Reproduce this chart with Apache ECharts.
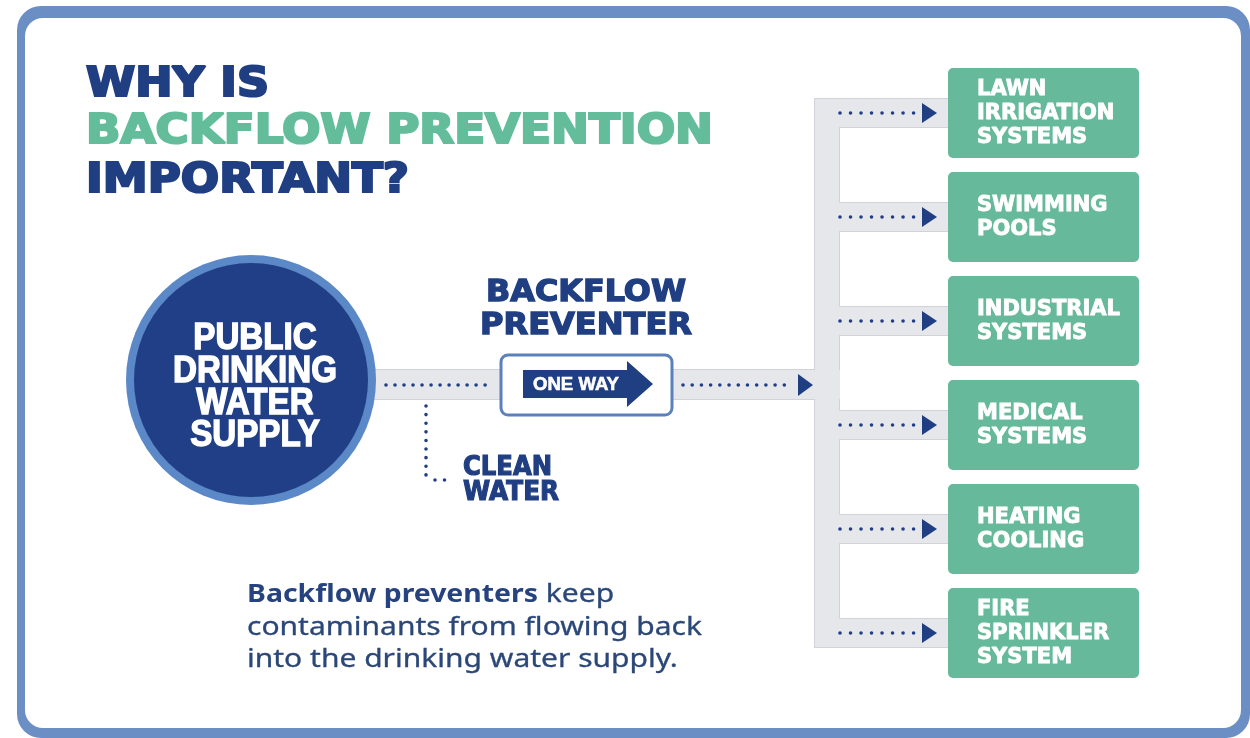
<!DOCTYPE html>
<html><head><meta charset="utf-8">
<script src="https://cdn.jsdelivr.net/npm/echarts@6/dist/echarts.min.js"></script>
<style>html,body{margin:0;padding:0;background:#fff;}#chart{width:1250px;height:738px;}</style>
</head><body><div id="chart"></div>
<script>
// ---- content ----
const titleLines = ['WHY IS', 'BACKFLOW PREVENTION', 'IMPORTANT?'];
const sourceLines = ['PUBLIC', 'DRINKING', 'WATER', 'SUPPLY'];
const preventerLines = ['BACKFLOW', 'PREVENTER'];
const arrowLabel = 'ONE WAY';
const cleanLines = ['CLEAN', 'WATER'];
const destinations = ['LAWN\nIRRIGATION\nSYSTEMS', 'SWIMMING\nPOOLS', 'INDUSTRIAL\nSYSTEMS', 'MEDICAL\nSYSTEMS', 'HEATING\nCOOLING', 'FIRE\nSPRINKLER\nSYSTEM'];
const captionBold = 'Backflow preventers';
const captionLines = [' keep', 'contaminants from flowing back', 'into the drinking water supply.'];

// ---- styles ----
const NAVY = '#203f82', GREEN = '#63bd9b', BOX = '#66b99b', FRAME = '#6b8ec4';
const PIPE = '#e6e7eb', PIPE_EDGE = '#d0d3da', RING = '#5b88c7', CIRCLE = '#213f86';
const HEAVY = '"DejaVu Sans"', ARIAL = '"Liberation Sans"', BODY = '"Noto Sans"';

const ctx = document.createElement('canvas').getContext('2d');
function measure(text, size, weight, family) {
  ctx.font = weight + ' ' + size + 'px ' + family;
  return ctx.measureText(text).width;
}
function txt(text, x, y, size, weight, family, fill, opt) {
  opt = opt || {};
  let sx = 1;
  if (opt.width) sx = opt.width / measure(text, size, weight, family);
  if (opt.scale) sx = opt.scale;
  const align = opt.align || 'left';
  const style = {
    text: text, fontSize: size, fontWeight: weight, fontFamily: family, fill: fill,
    align: align, textAlign: align, verticalAlign: 'middle', textVerticalAlign: 'middle'
  };
  if (opt.bolden) { style.stroke = fill; style.lineWidth = opt.bolden; style.lineJoin = 'round'; }
  return { type: 'text', x: x, y: y, scaleX: sx, z: opt.z || 10, style: style };
}
function dots(x1, y1, x2, y2, gap, z) {
  return {
    type: 'line', z: z || 6,
    shape: { x1: x1, y1: y1, x2: x2, y2: y2 },
    style: { stroke: NAVY, lineWidth: 3.6, lineDash: [0.01, gap], lineCap: 'round' }
  };
}

const elements = [];
// frame
elements.push({ type: 'rect', z: 0, shape: { x: 17, y: 6, width: 1233, height: 732, r: 24 }, style: { fill: FRAME } });
elements.push({ type: 'rect', z: 0, shape: { x: 25, y: 18, width: 1216, height: 710, r: 18 }, style: { fill: '#ffffff' } });

// title
const titleY = [86, 133, 182];
const titleW = [183, 627, 323];
titleLines.forEach((t, i) => {
  elements.push(txt(t, 86, titleY[i], 40, 'bold', HEAVY, i === 1 ? GREEN : NAVY, { width: titleW[i], bolden: 2.2 }));
});

// main pipe (outline + fill)
elements.push({ type: 'rect', z: 1, shape: { x: 360, y: 369, width: 480, height: 31 }, style: { fill: PIPE_EDGE } });
elements.push({ type: 'rect', z: 2, shape: { x: 360, y: 370, width: 480, height: 29 }, style: { fill: PIPE } });

// source circle
elements.push({ type: 'circle', z: 5, shape: { cx: 251, cy: 380, r: 125 }, style: { fill: RING } });
elements.push({ type: 'circle', z: 5, shape: { cx: 251, cy: 380, r: 117 }, style: { fill: CIRCLE } });
const srcScale = 164 / measure('DRINKING', 36, 'bold', ARIAL);
const srcY = [339, 372, 404, 436];
sourceLines.forEach((t, i) => {
  elements.push(txt(t, 255, srcY[i], 36, 'bold', ARIAL, '#ffffff', { scale: srcScale, align: 'center', bolden: 1.4 }));
});

// main flow dots
elements.push(dots(386, 385, 493, 385, 9));
elements.push(dots(683, 385, 793, 385, 9.2));
elements.push({ type: 'polygon', z: 6, shape: { points: [[798, 374], [813, 385], [798, 396]] }, style: { fill: NAVY } });

// preventer
elements.push({ type: 'rect', z: 6, shape: { x: 501, y: 355, width: 171, height: 60, r: 7 }, style: { fill: '#ffffff', stroke: '#5b80ba', lineWidth: 3 } });
elements.push({ type: 'polygon', z: 7, shape: { points: [[523, 370], [627, 370], [627, 361], [653, 384], [627, 407], [627, 398], [523, 398]] }, style: { fill: NAVY } });
elements.push(txt(arrowLabel, 576, 385, 18, 'bold', ARIAL, '#ffffff', { width: 86, align: 'center', z: 8, bolden: 0.6 }));
const prevY = [293, 326];
const prevW = [200, 212];
preventerLines.forEach((t, i) => {
  elements.push(txt(t, 586, prevY[i], 30, 'bold', HEAVY, NAVY, { width: prevW[i], align: 'center', bolden: 1.4 }));
});

// clean water branch
elements.push(dots(426, 406, 426, 479, 8.6));
elements.push(dots(435, 480, 446, 480, 9.5));
const cleanY = [468, 493];
const cleanW = [89, 96];
cleanLines.forEach((t, i) => {
  elements.push(txt(t, 463, cleanY[i], 27, 'bold', HEAVY, NAVY, { width: cleanW[i], bolden: 1.2 }));
});

// caption
const capScale = 455 / measure(captionLines[1], 25, 'normal', BODY);
const boldScale = 291 / measure(captionBold, 25, 'bold', BODY);
const boldW = 291;
const capY = [595, 628, 660];
elements.push(txt(captionBold, 247, capY[0], 25, 'bold', BODY, '#27437f', { scale: boldScale }));
elements.push(txt(captionLines[0], 247 + boldW, capY[0], 25, 'normal', BODY, '#2b4778', { scale: capScale, bolden: 0.3 }));
elements.push(txt(captionLines[1], 247, capY[1], 25, 'normal', BODY, '#2b4778', { scale: capScale, bolden: 0.3 }));
elements.push(txt(captionLines[2], 247, capY[2], 25, 'normal', BODY, '#2b4778', { scale: capScale, bolden: 0.3 }));

// ---- right side: destinations via category axis ----
const destData = destinations.map((d, i) => [0, i]);
function pipeItem(expand, color) {
  return function (params, api) {
    const c = api.coord([0, api.value(1)]);
    const band = api.size([0, 1])[1];
    const left = c[0], y = c[1];
    const last = params.dataIndex === destinations.length - 1;
    const kids = [{
      type: 'rect',
      shape: { x: left - 133 - expand, y: y - 14 - expand, width: 133 + expand, height: 28 + 2 * expand },
      style: { fill: color }
    }];
    if (!last) {
      kids.push({
        type: 'rect',
        shape: { x: left - 133 - expand, y: y - 14 - expand, width: 24 + 2 * expand, height: band + 28 + 2 * expand },
        style: { fill: color }
      });
    }
    return { type: 'group', children: kids };
  };
}

const option = {
  animation: false,
  backgroundColor: '#ffffff',
  grid: { left: 948, top: 61, width: 191, height: 624, show: false },
  xAxis: { type: 'value', min: 0, max: 1, show: false },
  yAxis: { type: 'category', data: destinations, inverse: true, show: false },
  graphic: { elements: elements },
  series: [
    { type: 'custom', z: 1, data: destData, encode: { x: 0, y: 1 }, renderItem: pipeItem(1, PIPE_EDGE), silent: true },
    { type: 'custom', z: 2, data: destData, encode: { x: 0, y: 1 }, renderItem: pipeItem(0, PIPE), silent: true },
    {
      type: 'custom', z: 6, data: destData, encode: { x: 0, y: 1 }, silent: true,
      renderItem: function (params, api) {
        const c = api.coord([0, api.value(1)]);
        const left = c[0], y = c[1];
        return {
          type: 'group', children: [
            { type: 'rect', shape: { x: left, y: y - 45, width: 191, height: 90, r: 5 }, style: { fill: BOX } },
            { type: 'line', shape: { x1: left - 108, y1: y, x2: left - 33, y2: y }, style: { stroke: NAVY, lineWidth: 3.6, lineDash: [0.01, 10.5], lineCap: 'round' } },
            { type: 'polygon', shape: { points: [[left - 26, y - 10], [left - 11, y], [left - 26, y + 10]] }, style: { fill: NAVY } },
            {
              type: 'text', x: left + 29, y: y + 1,
              style: {
                text: destinations[params.dataIndex], fontSize: 21, fontWeight: 'bold', fontFamily: HEAVY,
                fill: '#ffffff', stroke: '#ffffff', lineWidth: 0.9, lineJoin: 'round',
                lineHeight: 24, align: 'left', verticalAlign: 'middle'
              }
            }
          ]
        };
      }
    }
  ]
};

const chart = echarts.init(document.getElementById('chart'));
chart.setOption(option);
</script>
</body></html>
